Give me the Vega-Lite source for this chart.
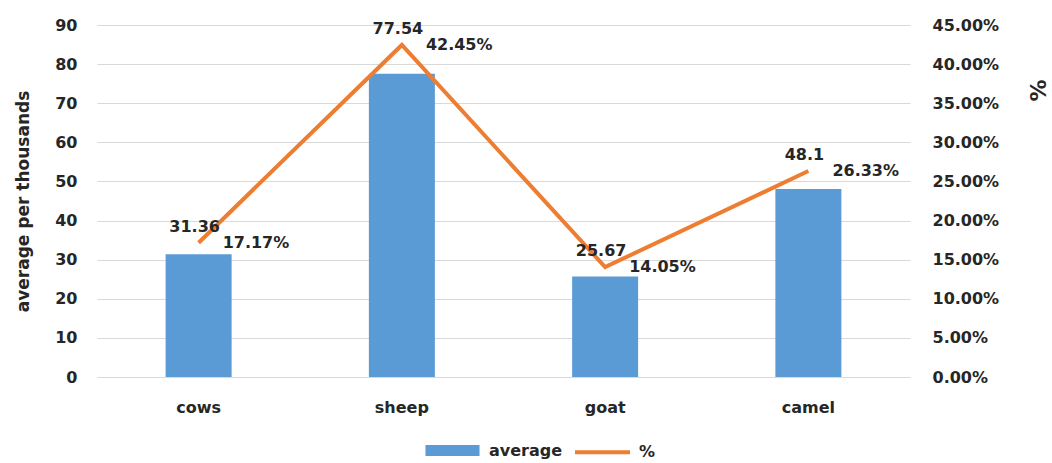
{
  "$schema": "https://vega.github.io/schema/vega-lite/v6.json",
  "width": 813,
  "height": 352,
  "autosize": {"type": "none"},
  "padding": {"left": 97, "top": 25, "right": 142, "bottom": 86},
  "background": "white",
  "config": {
    "font": "DejaVu Sans",
    "view": {"stroke": null},
    "axis": {
      "labelFont": "DejaVu Sans",
      "labelFontWeight": "bold",
      "labelFontSize": 16,
      "labelColor": "#262626",
      "labelOverlap": false,
      "titleFont": "DejaVu Sans",
      "titleFontWeight": "bold",
      "titleColor": "#262626",
      "ticks": false,
      "domain": false
    },
    "text": {"font": "DejaVu Sans", "fontWeight": "bold", "fontSize": 16, "color": "#262626"}
  },
  "data": {
    "values": [
      {"animal": "cows", "average": 31.36, "pct": 0.1717},
      {"animal": "sheep", "average": 77.54, "pct": 0.4245},
      {"animal": "goat", "average": 25.67, "pct": 0.1405},
      {"animal": "camel", "average": 48.1, "pct": 0.2633}
    ]
  },
  "encoding": {
    "x": {
      "field": "animal",
      "type": "nominal",
      "sort": null,
      "scale": {"paddingInner": 0, "paddingOuter": 0},
      "axis": {"title": null, "labelAngle": 0, "labelPadding": 22, "grid": false}
    }
  },
  "layer": [
    {
      "layer": [
        {
          "mark": {"type": "bar", "size": 66},
          "encoding": {
            "y": {
              "field": "average",
              "type": "quantitative",
              "scale": {"domain": [0, 90]},
              "axis": {
                "values": [0, 10, 20, 30, 40, 50, 60, 70, 80, 90],
                "tickCount": 20,
                "title": "average per thousands",
                "titleFontSize": 17,
                "titlePadding": 22,
                "labelPadding": 20,
                "labelOverlap": false,
                "grid": true,
                "gridColor": "#D9D9D9",
                "gridWidth": 1
              }
            },
            "color": {
              "datum": "average",
              "type": "nominal",
              "scale": {"domain": ["average", "%"], "range": ["#5B9BD5", "#ED7D31"]},
              "legend": {
                "orient": "none",
                "legendX": 326,
                "legendY": 396,
                "direction": "horizontal",
                "title": null,
                "labelFont": "DejaVu Sans",
                "labelFontSize": 16,
                "labelFontWeight": "bold",
                "labelColor": "#262626",
                "labelOffset": 7,
                "columnPadding": 4,
                "symbolStrokeWidth": 4,
                "symbolSize": 3025,
                "encode": {
                  "symbols": {
                    "update": {
                      "shape": {"signal": "datum.value === 'average' ? 'M-0.91,-0.127L0.91,-0.127L0.91,0.127L-0.91,0.127Z' : 'stroke'"},
                      "size": {"value": 3025},
                      "fill": {"signal": "datum.value === 'average' ? '#5B9BD5' : 'transparent'"},
                      "stroke": {"signal": "datum.value === 'average' ? 'transparent' : '#ED7D31'"},
                      "strokeWidth": {"value": 4},
                      "opacity": {"value": 1}
                    }
                  }
                }
              }
            }
          }
        }
      ]
    },
    {
      "layer": [
        {
          "mark": {"type": "line", "strokeWidth": 4},
          "encoding": {
            "y": {
              "field": "pct",
              "type": "quantitative",
              "scale": {"domain": [0, 0.45]},
              "axis": {
                "orient": "right",
                "format": ".2%",
                "values": [0, 0.05, 0.1, 0.15, 0.2, 0.25, 0.3, 0.35, 0.4, 0.45],
                "tickCount": 20,
                "labelPadding": 22,
                "labelOverlap": false,
                "grid": false,
                "title": "%",
                "titleFontSize": 22,
                "titleAngle": 270,
                "titleAlign": "center",
                "titleBaseline": "middle",
                "titleX": 128,
                "titleY": 65
              }
            },
            "color": {"datum": "%", "type": "nominal"}
          }
        },
        {
          "mark": {"type": "text", "align": "left", "baseline": "middle", "dx": 24},
          "encoding": {
            "y": {"field": "pct", "type": "quantitative"},
            "text": {"field": "pct", "type": "quantitative", "format": ".2%"}
          }
        },
        {
          "mark": {"type": "text", "align": "center", "baseline": "middle", "dx": -4, "dy": -16},
          "encoding": {
            "y": {"field": "pct", "type": "quantitative"},
            "text": {"field": "average", "type": "quantitative"}
          }
        }
      ]
    }
  ],
  "resolve": {"scale": {"y": "independent"}}
}
